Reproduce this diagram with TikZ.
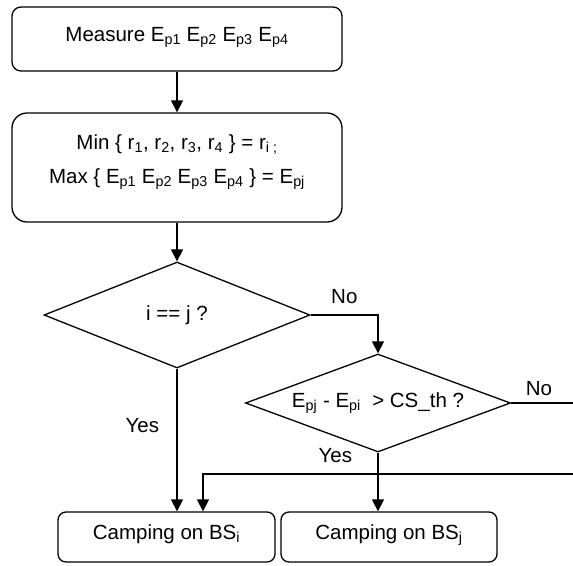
\documentclass[tikz,border=0pt]{standalone}
\usepackage{fontspec}
\setmainfont{Liberation Sans}
\usetikzlibrary{arrows.meta,shapes.geometric,positioning}

\newcommand{\sub}[1]{\textsubscript{#1}}

\begin{document}
\begin{tikzpicture}[x=1pt,y=-1pt,
    every node/.style={font=\fontsize{20.5}{24}\selectfont},
    box/.style={draw,line width=1.3pt,align=center,inner sep=0pt},
    decision/.style={draw,diamond,line width=1.3pt,inner sep=0pt,aspect=2.7},
    arr/.style={line width=1.3pt,-{Triangle[length=12pt,width=12pt]}},
    link/.style={line width=1.3pt}]
    \useasboundingbox (0,0) rectangle (573,565);
    % steps
    \node[box,rounded corners=9pt,minimum width=330pt,minimum height=64pt,text depth=10pt] (measure) at (177,39)
        {Measure E\sub{p1} E\sub{p2} E\sub{p3} E\sub{p4}};
    \node[box,rounded corners=15pt,minimum width=330pt,minimum height=109pt,text depth=17pt] (minmax) at (177,167.5)
        {Min \{ r\sub{1}, r\sub{2}, r\sub{3}, r\sub{4} \} = r\sub{i ;}\\[10pt]
         Max \{ E\sub{p1} E\sub{p2} E\sub{p3} E\sub{p4} \} = E\sub{pj}};
    \node[decision,minimum width=266pt,minimum height=106pt] (same) at (177,315) {i == j ?};
    \node[decision,minimum width=265pt,minimum height=98pt] (gain) at (378,403)
        {E\sub{pj} - E\sub{pi} \ > CS\_th ?};
    \node[box,rounded corners=8pt,minimum width=217pt,minimum height=50pt,text depth=10pt] (campi) at (166.5,537)
        {Camping on BS\sub{i}};
    \node[box,rounded corners=8pt,minimum width=216pt,minimum height=50pt,text depth=10pt] (campj) at (389,537)
        {Camping on BS\sub{j}};
    \coordinate (noexit) at (573,403);
    \coordinate (back) at (573,474);
    % flow
    \draw[arr] (measure) -- (minmax);
    \draw[arr] (minmax) -- (same);
    \draw[arr] (same.east) -| (gain.north) node[pos=0.25,above=7pt] {No};
    \draw[arr] (same.south) -- (same.south |- campi.north) node[pos=0.4,left=14pt] {Yes};
    \draw[arr] (gain.south) -- (gain.south |- campj.north) node[pos=0.05,left=22pt] {Yes};
    \draw[link] (gain.east) -- (noexit) node[pos=0.45,above=3pt] {No};
    \draw[arr] (back) -| ([xshift=36.5pt]campi.north);
\end{tikzpicture}
\end{document}
